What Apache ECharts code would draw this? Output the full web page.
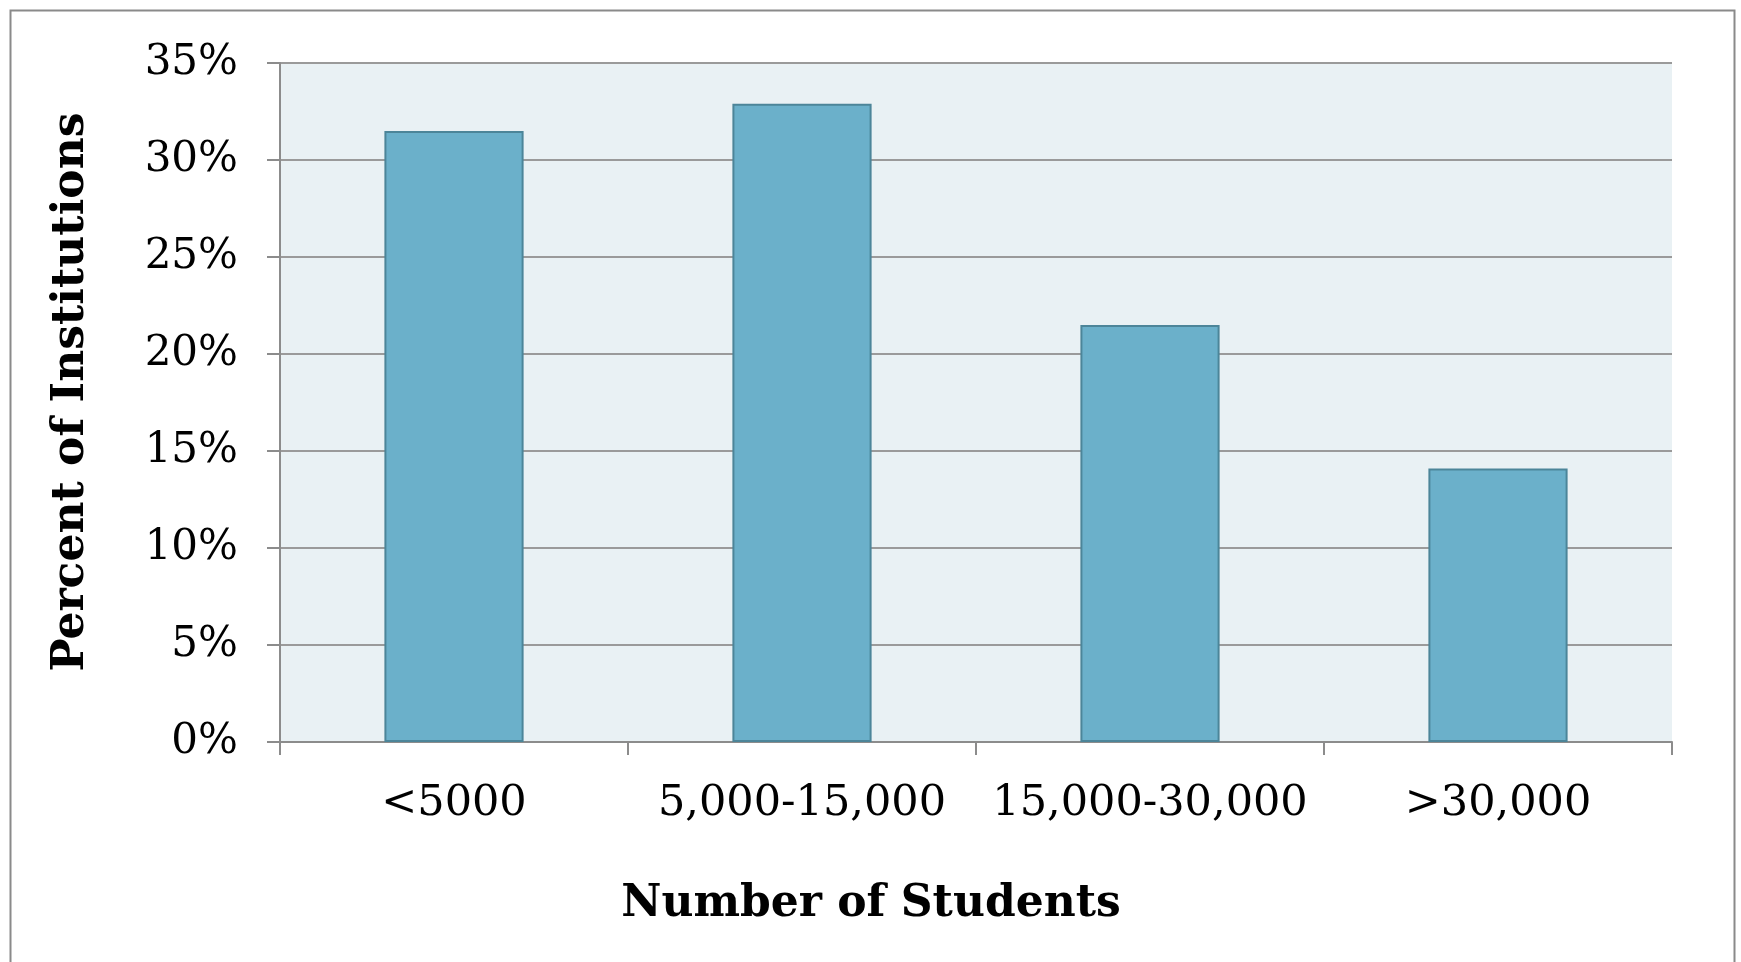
<!DOCTYPE html>
<html>
<head>
<meta charset="utf-8">
<script src="https://cdn.jsdelivr.net/npm/echarts@6/dist/echarts.min.js"></script>
<style>
  html, body { margin: 0; padding: 0; background: #fff; }
  #main { width: 1741px; height: 962px; }
</style>
</head>
<body>
<div id="main"></div>
<script>
const categories = ['<5000', '5,000-15,000', '15,000-30,000', '>30,000'];
const percents = [31.5, 32.9, 21.5, 14.1];
const yTicks = [0, 5, 10, 15, 20, 25, 30, 35];

const chart = echarts.init(document.getElementById('main'), null, { renderer: 'canvas' });

const serif = '"DejaVu Serif", "Liberation Serif", serif';

let option = {
    backgroundColor: '#ffffff',
    animation: false,
    grid: {
        left: 280,
        right: 69,
        top: 63,
        bottom: 220,
        show: true,
        backgroundColor: '#e9f1f4',
        borderWidth: 0
    },
    xAxis: {
        type: 'category',
        data: categories,
        axisLine: { lineStyle: { color: '#8c8c8c', width: 2 } },
        axisTick: { show: true, length: 13, lineStyle: { color: '#8c8c8c', width: 2 } },
        axisLabel: { color: '#000', fontFamily: serif, fontSize: 43, margin: 40, interval: 0 }
    },
    yAxis: {
        type: 'value',
        min: yTicks[0],
        max: yTicks[yTicks.length - 1],
        interval: 5,
        axisLine: { show: true, lineStyle: { color: '#8c8c8c', width: 2 } },
        axisTick: { show: true, length: 13, lineStyle: { color: '#8c8c8c', width: 2 } },
        axisLabel: {
            color: '#000', fontFamily: serif, fontSize: 42, margin: 42,
            formatter: v => v + '%'
        },
        splitLine: { lineStyle: { color: '#9a9a9a', width: 2 } }
    },
    series: [{
        type: 'bar',
        data: percents,
        barWidth: '40%',
        itemStyle: { color: '#6bb0ca', borderColor: '#4c8599', borderWidth: 2 }
    }],
    graphic: [
        {
            type: 'rect',
            left: 8, top: 8,
            shape: { width: 1724, height: 970 },
            style: { fill: 'none', stroke: '#8a8a8a', lineWidth: 2 },
            silent: true
        },
        {
            type: 'text',
            x: 72, y: 392,
            rotation: Math.PI / 2,
            style: {
                text: 'Percent of Institutions',
                fill: '#000',
                font: 'bold 44px ' + serif,
                textAlign: 'center',
                textVerticalAlign: 'middle'
            }
        },
        {
            type: 'text',
            x: 871, y: 905,
            style: {
                text: 'Number of Students',
                fill: '#000',
                font: 'bold 44px ' + serif,
                textAlign: 'center',
                textVerticalAlign: 'middle'
            }
        }
    ]
};

chart.setOption(option);
</script>
</body>
</html>
